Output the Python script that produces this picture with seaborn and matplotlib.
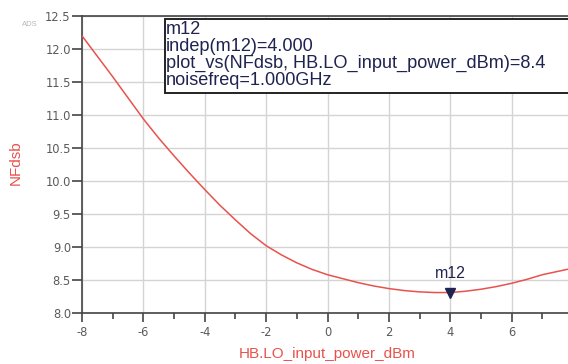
import matplotlib
matplotlib.use("Agg")
import matplotlib.pyplot as plt
import seaborn as sns
import pandas as pd
from matplotlib.ticker import MultipleLocator
from matplotlib.patches import Rectangle

# ---- data ----
lo_power_dbm = [-8, -7.5, -7, -6.5, -6, -5.5, -5, -4.5, -4, -3.5, -3, -2.5, -2,
                -1.5, -1, -0.5, 0, 0.5, 1, 1.5, 2, 2.5, 3, 3.5, 4, 4.5, 5,
                5.5, 6, 6.5, 7, 7.5, 8]
nf_dsb = [12.20, 11.89, 11.58, 11.26, 10.94, 10.65, 10.38, 10.12, 9.87, 9.63,
          9.41, 9.20, 9.02, 8.88, 8.76, 8.66, 8.58, 8.52, 8.46, 8.41, 8.37,
          8.34, 8.32, 8.31, 8.31, 8.33, 8.36, 8.40, 8.45, 8.51, 8.58, 8.63,
          8.68]
marker_name = "m12"
marker_x = 4
marker_y = 8.31
marker_lines = ["m12", "indep(m12)=4.000",
                "plot_vs(NFdsb, HB.LO_input_power_dBm)=8.4",
                "noisefreq=1.000GHz"]
x_ticks = [-8, -6, -4, -2, 0, 2, 4, 6]
y_ticks = [8.0, 8.5, 9.0, 9.5, 10.0, 10.5, 11.0, 11.5, 12.0, 12.5]

sns.set_style("white")
plt.rcParams["font.family"] = ["Liberation Sans", "DejaVu Sans"]
plt.rcParams["axes.unicode_minus"] = False

df = pd.DataFrame({"HB.LO_input_power_dBm": lo_power_dbm, "NFdsb": nf_dsb})

fig = plt.figure(figsize=(5.68, 3.64), dpi=100)
ax = fig.add_axes([82 / 568, 51 / 364, 491 / 568, 297 / 364])

red = "#e8524c"
sns.lineplot(data=df, x="HB.LO_input_power_dBm", y="NFdsb", ax=ax,
             color=red, linewidth=1.1, zorder=3)

ax.set_xlim(-8, 8)
ax.set_ylim(8.0, 12.5)
ax.set_xticks(x_ticks)
ax.set_yticks(y_ticks)
ax.xaxis.set_minor_locator(MultipleLocator(1))
ax.set_xticklabels([str(v) for v in x_ticks], family="DejaVu Sans")
ax.set_yticklabels([f"{v:.1f}" for v in y_ticks], family="DejaVu Sans")
ax.grid(True, which="major", color="#d4d4d4", linewidth=1.0, zorder=0)

for s in ["left", "bottom", "top"]:
    ax.spines[s].set_color("#444444")
    ax.spines[s].set_linewidth(1.2)
ax.spines["right"].set_visible(False)

ax.tick_params(axis="y", which="major", direction="out", length=7.5, width=1.2,
               color="#444444", labelsize=8.3, labelcolor="#5a5a5a", pad=0.5, left=True)
ax.tick_params(axis="x", which="major", direction="out", length=6.5, width=1.2,
               color="#444444", labelsize=8.3, labelcolor="#5a5a5a", pad=3, bottom=True)
ax.tick_params(axis="x", which="minor", direction="out", length=4, width=1.2,
               color="#444444", bottom=True)

ax.set_xlabel("HB.LO_input_power_dBm", color=red, fontsize=11)
ax.xaxis.set_label_coords((327 - 82) / 491, -34 / 297)
ax.set_ylabel("NFdsb", color=red, fontsize=11)
ax.yaxis.set_label_coords(-(82 - 23) / 491, (313 - 163) / 297)

# marker
navy = "#1e2350"
ax.plot([marker_x], [marker_y], marker="v", color=navy, markersize=6.5,
        zorder=5, linestyle="none")
ax.annotate(marker_name, xy=(marker_x, marker_y), xytext=(0, 8),
            textcoords="offset points", ha="center", va="bottom",
            color=navy, fontsize=11.5)

# marker info box
box = Rectangle((165 / 568, 1 - 93 / 364), 420 / 568, 74 / 364,
                transform=fig.transFigure, facecolor="white",
                edgecolor="#222222", linewidth=1.4, zorder=6)
fig.patches.append(box)
fig.text(166 / 568, 1 - 21 / 364, "\n".join(marker_lines), ha="left", va="top",
         color=navy, fontsize=13.1, linespacing=0.99, zorder=7)

fig.text(22 / 568, 1 - 25 / 364, "ADS", color="#b8b8b8", fontsize=5.5,
         ha="left", va="center")

fig.savefig("out.png", dpi=100)
